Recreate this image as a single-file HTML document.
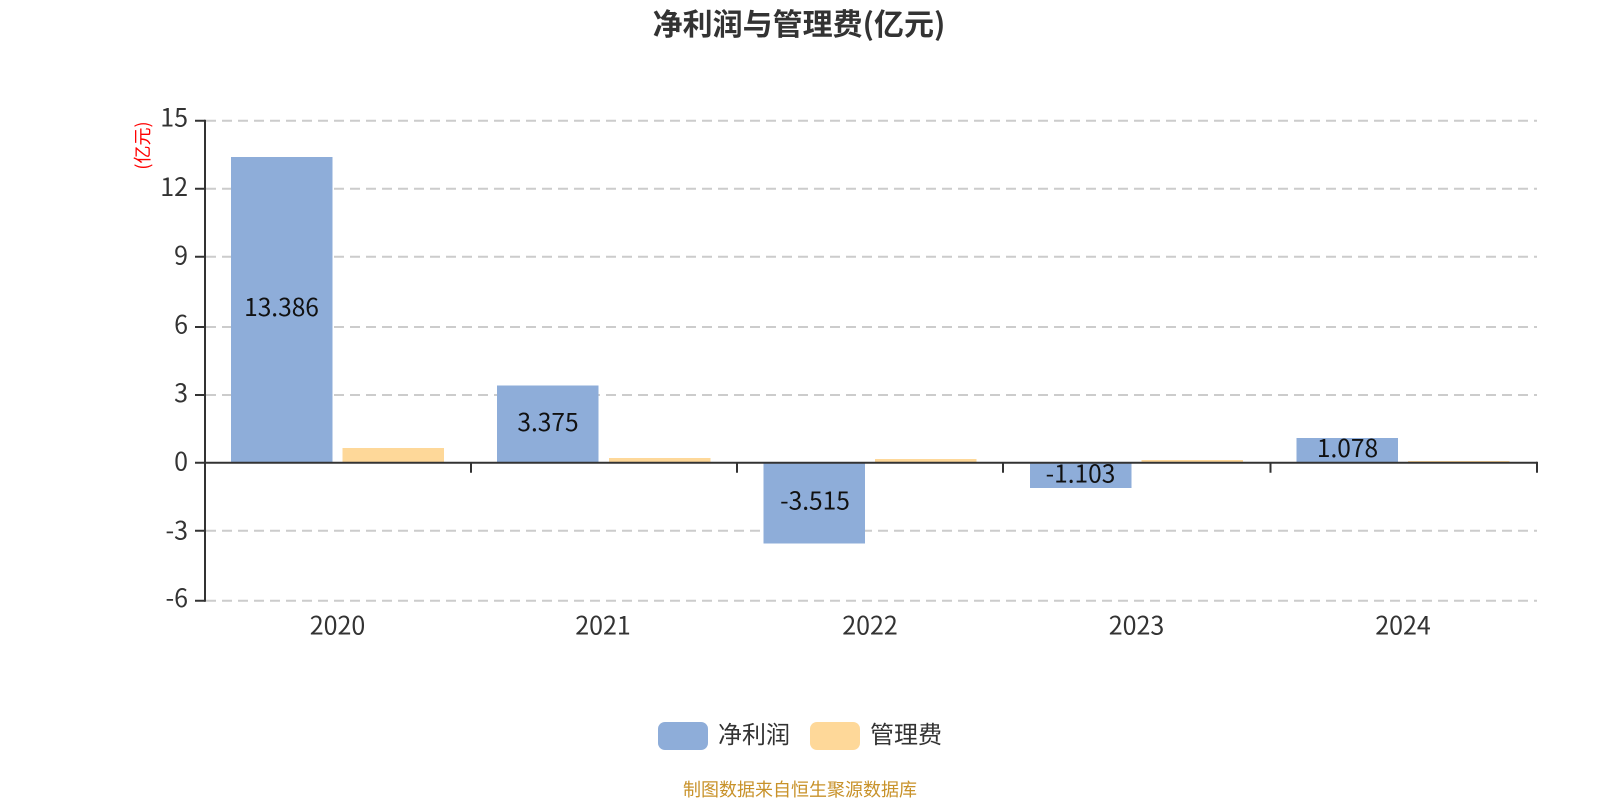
<!DOCTYPE html>
<html lang="zh"><head><meta charset="utf-8"><title>净利润与管理费</title>
<style>
html,body{margin:0;padding:0;background:#fff;width:1600px;height:800px;overflow:hidden}
svg{display:block}
text{font-family:"Noto Sans CJK SC","Liberation Sans",sans-serif}
.ax{font-size:25px;fill:#333}
.lb{font-size:24.5px;fill:#111;text-anchor:middle}
</style></head><body>
<svg width="1600" height="800" viewBox="0 0 1600 800" xmlns="http://www.w3.org/2000/svg">
<rect width="1600" height="800" fill="#fff"/>
<text x="799" y="35" font-size="30" font-weight="700" fill="#333" text-anchor="middle">净利润与管理费(亿元)</text>
<g stroke="#ccc" stroke-width="2" stroke-dasharray="10 6" fill="none">
<path d="M206 120.7H1537M206 188.7H1537M206 256.7H1537M206 327H1537M206 395H1537M206 530.7H1537M206 600.7H1537"/>
</g>
<g fill="#8eadd9">
<rect x="231" y="157" width="101.5" height="306"/>
<rect x="497" y="385.5" width="101.5" height="77.5"/>
<rect x="763.5" y="463" width="101.5" height="80.5"/>
<rect x="1030" y="463" width="101.5" height="25"/>
<rect x="1296.5" y="438" width="101.5" height="25"/>
</g>
<g fill="#fed899">
<rect x="342.5" y="448" width="101.5" height="15"/>
<rect x="609" y="458" width="101.5" height="5"/>
<rect x="875" y="459" width="101.5" height="4"/>
<rect x="1141.5" y="460" width="101.5" height="3"/>
<rect x="1408" y="461" width="101.5" height="2"/>
</g>
<g stroke="#333" stroke-width="2" fill="none">
<path d="M205 119.7V601.7"/>
<path d="M195 120.7H205M195 188.7H205M195 256.7H205M195 327H205M195 395H205M195 462.7H205M195 530.7H205M195 600.7H205"/>
<path d="M205 462.7H1537"/>
<path d="M471 462.7V472.7M737 462.7V472.7M1003 462.7V472.7M1270.5 462.7V472.7M1537 461.7V472.7"/>
</g>
<g text-anchor="end">
<text class="ax" x="188" y="126.7">15</text>
<text class="ax" x="188" y="196">12</text>
<text class="ax" x="188" y="264.3">9</text>
<text class="ax" x="188" y="333.3">6</text>
<text class="ax" x="188" y="402">3</text>
<text class="ax" x="188" y="470.3">0</text>
<text class="ax" x="188" y="539.3">-3</text>
<text class="ax" x="188" y="607">-6</text>
</g>
<g text-anchor="middle">
<text class="ax" x="337.5" y="634.5">2020</text>
<text class="ax" x="603" y="634.5">2021</text>
<text class="ax" x="870" y="634.5">2022</text>
<text class="ax" x="1136.5" y="634.5">2023</text>
<text class="ax" x="1403" y="634.5">2024</text>
</g>
<text class="lb" x="281.5" y="316">13.386</text>
<text class="lb" x="548" y="431">3.375</text>
<text class="lb" x="815" y="509.5">-3.515</text>
<text class="lb" x="1080.5" y="482.5">-1.103</text>
<text class="lb" x="1347.5" y="457">1.078</text>
<text transform="translate(149 145.5) rotate(-90)" font-size="18" fill="#f00" text-anchor="middle">(亿元)</text>
<rect x="658" y="722" width="50" height="28" rx="7" fill="#8eadd9"/>
<text x="718" y="743" font-size="24" fill="#333">净利润</text>
<rect x="810" y="722" width="50" height="28" rx="7" fill="#fed899"/>
<text x="870" y="743" font-size="24" fill="#333">管理费</text>
<text x="800" y="796" font-size="18" fill="#c8922a" text-anchor="middle">制图数据来自恒生聚源数据库</text>
</svg>
</body></html>
